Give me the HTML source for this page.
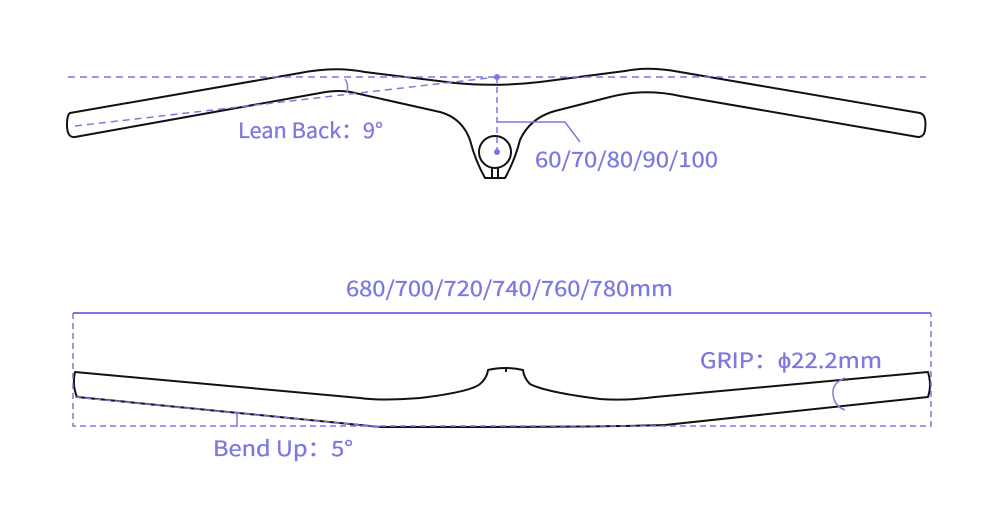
<!DOCTYPE html>
<html><head><meta charset="utf-8"><style>
html,body{margin:0;padding:0;background:#fff;}
svg{display:block}
text{font-family:"Noto Sans CJK SC","Liberation Sans",sans-serif;fill:#7b78e0;font-size:21px;stroke:#7b78e0;stroke-width:0.3}
</style></head><body>
<svg width="1000" height="525" viewBox="0 0 1000 525">
<g fill="none" stroke="#111" stroke-width="2" stroke-linejoin="round">
<path d="M70,113 L300,73 Q335,66 365,72 L455,83 Q497,87 540,82 L625,71 Q650,66 680,72 L920,113 Q927,115 925,130 Q924,137 918,137 L680,96 Q645,88 610,97 L555,111 Q530,118 520,140 Q515,160 505,178 L485,178 Q475,160 470,140 Q462,118 440,112 L355,93 Q340,89 320,93 L75,137 Q67,138 67,125 Q67,115 70,113 Z"/>
<circle cx="495" cy="152" r="16"/>
<path d="M492,168 V178 M498,168 V178"/>
<path d="M75,372 L360,398 Q380,401 420,398 Q470,392 480,384 Q487,378 488,370 Q505,366 523,370 Q524,378 530,384 Q545,392 600,399 Q625,401 655,397 L928,372 Q932,385 928,397 L665,425 Q600,427 420,427 L380,427 L77,397 Q72,385 75,372 Z"/>
<path d="M506,368 V372"/>
</g>
<g fill="none" stroke="#7b78e0" stroke-width="1.5">
<path d="M68,77 H926" stroke-dasharray="7,5"/>
<path d="M75,126 L497,77" stroke-dasharray="7,5"/>
<path d="M497,77 V152" stroke-dasharray="6,4"/>
<path d="M345,79 Q349,85 347,93"/>
<path d="M497,122 H565 L580,142"/>
<path d="M73,313 H931" stroke-width="2"/>
<path d="M73,313 V426 H931 V313" stroke-dasharray="6,4"/>
<path d="M75,397 L380,427" stroke-dasharray="6,4"/>
<path d="M237,413 V427"/>
<path d="M845,378 Q832,383 833,394 Q834,406 845,410"/>
</g>
<circle cx="497" cy="77" r="3" fill="#7b78e0"/>
<circle cx="497" cy="152" r="3" fill="#7b78e0"/>
<text x="238" y="138" textLength="145" lengthAdjust="spacingAndGlyphs">Lean Back：9°</text>
<text x="535" y="167" textLength="183" lengthAdjust="spacingAndGlyphs">60/70/80/90/100</text>
<text x="346" y="296" textLength="327" lengthAdjust="spacingAndGlyphs">680/700/720/740/760/780mm</text>
<text x="700" y="368" textLength="182" lengthAdjust="spacingAndGlyphs">GRIP：ϕ22.2mm</text>
<text x="213" y="456" textLength="140" lengthAdjust="spacingAndGlyphs">Bend Up：5°</text>
</svg>
</body></html>
